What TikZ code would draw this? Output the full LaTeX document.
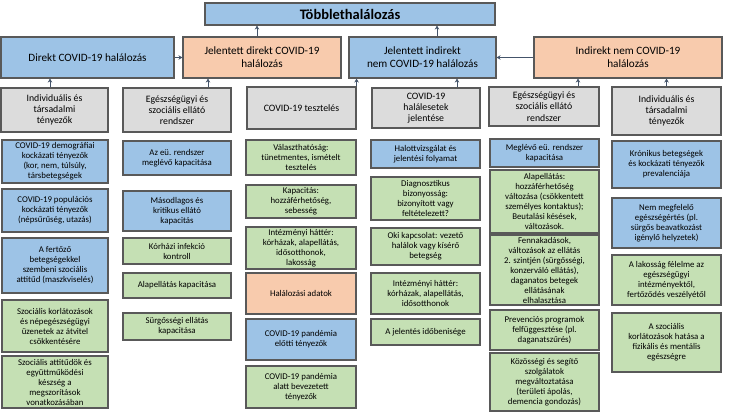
\documentclass[tikz,border=0pt]{standalone}
\usepackage{fontspec}
\setmainfont{Carlito}
\usetikzlibrary{arrows.meta}
\definecolor{boxblue}{HTML}{9DC3E6}
\definecolor{boxgreen}{HTML}{C5E0B4}
\definecolor{boxorange}{HTML}{F8CBAD}
\definecolor{boxgray}{HTML}{DCDCDC}
\definecolor{boxline}{HTML}{595959}
\definecolor{arrowcol}{HTML}{44546A}

\begin{document}
\begin{tikzpicture}[x=1pt,y=-1pt,
  box/.style={draw=boxline, line width=1.1pt, align=center, inner sep=0pt, font={\fontsize{8.8}{10}\selectfont}},
  bluebox/.style={box, fill=boxblue},
  greenbox/.style={box, fill=boxgreen},
  orangebox/.style={box, fill=boxorange},
  graybox/.style={box, fill=boxgray, font={\fontsize{9.8}{11.3}\selectfont}},
  headbox/.style={box, font={\fontsize{11.2}{13}\selectfont}},
  arr/.style={draw=arrowcol, line width=1pt, -{Stealth[length=4pt,width=4.5pt]}}]
\useasboundingbox (0,0) rectangle (729,412);

% top
\node[headbox, fill=boxblue, minimum width=290pt, minimum height=22pt, font={\fontsize{14.5}{16}\selectfont\bfseries}] (t) at (350,14) {Többlethalálozás};

% second row
\node[headbox, fill=boxblue, minimum width=173pt, minimum height=41pt] (r1) at (87.5,57.5) {Direkt COVID-19 halálozás};
\node[headbox, fill=boxorange, minimum width=158pt, minimum height=41pt] (r2) at (262,57.5) {Jelentett direkt COVID-19\\ halálozás};
\node[headbox, fill=boxblue, minimum width=147pt, minimum height=41pt] (r3) at (422.5,57.5) {Jelentett indirekt\\ nem COVID-19 halálozás};
\node[headbox, fill=boxorange, minimum width=188pt, minimum height=41pt] (r4) at (628,57.5) {Indirekt nem COVID-19\\ halálozás};

% gray row
\node[graybox, minimum width=107pt, minimum height=44pt] (g1) at (54.5,110) {Individuális és\\ társadalmi\\ tényezők};
\node[graybox, minimum width=108pt, minimum height=44pt] (g2) at (177,110) {Egészségügyi és\\ szociális ellátó\\ rendszer};
\node[graybox, minimum width=109pt, minimum height=42pt] (g3) at (301.5,108) {COVID-19 tesztelés};
\node[graybox, minimum width=108pt, minimum height=40pt] (g4) at (426,108) {COVID-19\\ halálesetek\\ jelentése};
\node[graybox, minimum width=110pt, minimum height=39pt] (g5) at (544,106.5) {Egészségügyi és\\ szociális ellátó\\ rendszer};
\node[graybox, minimum width=109pt, minimum height=48pt] (g6) at (666.5,111) {Individuális és\\ társadalmi\\ tényezők};

% column 1
\node[bluebox, minimum width=106pt, minimum height=43pt] (c11) at (55,161.5) {COVID-19 demográfiai\\ kockázati tényezők\\ (kor, nem, túlsúly,\\ társbetegségek};
\node[bluebox, minimum width=106pt, minimum height=43pt] (c12) at (55,210.5) {COVID-19 populációs\\ kockázati tényezők\\ (népsűrűség, utazás)};
\node[bluebox, minimum width=106pt, minimum height=55pt] (c13) at (55,265.5) {A fertőző\\ betegségekkel\\ szembeni szociális\\ attitűd (maszkviselés)};
\node[greenbox, minimum width=106pt, minimum height=52pt] (c14) at (55,326) {Szociális korlátozások\\ és népegészségügyi\\ üzenetek az átvitel\\ csökkentésére};
\node[greenbox, minimum width=106pt, minimum height=52pt] (c15) at (55,382) {Szociális attitűdök és\\ együttműködési\\ készség a\\ megszorítások\\ vonatkozásában};

% column 2
\node[bluebox, minimum width=108pt, minimum height=34pt] (c21) at (177,158) {Az eü. rendszer\\ meglévő kapacitása};
\node[bluebox, minimum width=108pt, minimum height=40pt] (c22) at (177,211) {Másodlagos és\\ kritikus ellátó\\ kapacitás};
\node[greenbox, minimum width=108pt, minimum height=26pt] (c23) at (177,251) {Kórházi infekció\\ kontroll};
\node[greenbox, minimum width=108pt, minimum height=25pt] (c24) at (177,285.5) {Alapellátás kapacitása};
\node[greenbox, minimum width=108pt, minimum height=27pt] (c25) at (177,326.5) {Sürgősségi ellátás\\ kapacitása};

% column 3
\node[greenbox, minimum width=110pt, minimum height=35pt] (c31) at (301,157.5) {Választhatóság:\\ tünetmentes, ismételt\\ tesztelés};
\node[greenbox, minimum width=110pt, minimum height=33pt] (c32) at (301,201.5) {Kapacitás:\\ hozzáférhetőség,\\ sebesség};
\node[greenbox, minimum width=110pt, minimum height=42pt] (c33) at (301,248) {Intézményi háttér:\\ kórházak, alapellátás,\\ idősotthonok,\\ lakosság};
\node[orangebox, minimum width=110pt, minimum height=41pt] (c34) at (301,293.5) {Halálozási adatok};
\node[bluebox, minimum width=110pt, minimum height=41pt] (c35) at (301,339.5) {COVID-19 pandémia\\ előtti tényezők};
\node[greenbox, minimum width=110pt, minimum height=42pt] (c36) at (301,387) {COVID-19 pandémia\\ alatt bevezetett\\ tényezők};

% column 4
\node[bluebox, minimum width=109pt, minimum height=28pt] (c41) at (425.5,154) {Halottvizsgálat és\\ jelentési folyamat};
\node[greenbox, minimum width=109pt, minimum height=43pt] (c42) at (425.5,198.5) {Diagnosztikus\\ bizonyosság:\\ bizonyított vagy\\ feltételezett?};
\node[greenbox, minimum width=109pt, minimum height=37pt] (c43) at (425.5,246.5) {Oki kapcsolat: vezető\\ halálok vagy kísérő\\ betegség};
\node[greenbox, minimum width=109pt, minimum height=41pt] (c44) at (425.5,293.5) {Intézményi háttér:\\ kórházak, alapellátás,\\ idősotthonok};
\node[greenbox, minimum width=109pt, minimum height=26pt] (c45) at (425.5,332) {A jelentés időbenisége};

% column 5
\node[bluebox, minimum width=109pt, minimum height=28pt] (c51) at (544.5,153) {Meglévő eü. rendszer\\ kapacitása};
\node[greenbox, minimum width=109pt, minimum height=63pt] (c52) at (544.5,201.5) {Alapellátás:\\ hozzáférhetőség\\ változása (csökkentett\\ személyes kontaktus);\\ Beutalási késések,\\ változások.};
\node[greenbox, minimum width=109pt, minimum height=70pt] (c53) at (544.5,270) {Fennakadások,\\ változások az ellátás\\ 2. szintjén (sürgősségi,\\ konzerváló ellátás),\\ daganatos betegek\\ ellátásának\\ elhalasztása};
\node[greenbox, minimum width=109pt, minimum height=40pt] (c54) at (544.5,330) {Prevenciós programok\\ felfüggesztése (pl.\\ daganatszűrés)};
\node[greenbox, minimum width=109pt, minimum height=58pt] (c55) at (544.5,382) {Közösségi és segítő\\ szolgálatok\\ megváltoztatása\\ (területi ápolás,\\ demencia gondozás)};

% column 6
\node[bluebox, minimum width=109pt, minimum height=47pt] (c61) at (666.5,164.5) {Krónikus betegségek\\ és kockázati tényezők\\ prevalenciája};
\node[bluebox, minimum width=109pt, minimum height=50pt] (c62) at (666.5,223) {Nem megfelelő\\ egészségértés (pl.\\ sürgős beavatkozást\\ igénylő helyzetek)};
\node[greenbox, minimum width=109pt, minimum height=50pt] (c63) at (666.5,280) {A lakosság félelme az\\ egészségügyi\\ intézményektől,\\ fertőződés veszélyétől};
\node[greenbox, minimum width=109pt, minimum height=59pt] (c64) at (666.5,342.5) {A szociális\\ korlátozások hatása a\\ fizikális és mentális\\ egészségre};

% arrows
\path[draw,arr] (257,0 |- r2.north) -- (257,0 |- t.south);
\path[draw,arr] (437,0 |- r3.north) -- (437,0 |- t.south);
\path[draw,arr] (r1.east) -- (r2.west);
\path[draw,arr] (r4.west) -- (r3.east);
\path[draw,arr] (50,0 |- g1.north) -- (50,0 |- r1.south);
\path[draw,arr] (208,0 |- g2.north) -- (208,0 |- r2.south);
\path[draw,arr] (g3.north east) -- (g3.north east |- r3.south);
\path[draw,arr] (457,0 |- g4.north) -- (457,0 |- r3.south);
\path[draw,arr] (578,0 |- g5.north) -- (578,0 |- r4.south);
\path[draw,arr] (g6.north) -- (g6.north |- r4.south);
\end{tikzpicture}
\end{document}
